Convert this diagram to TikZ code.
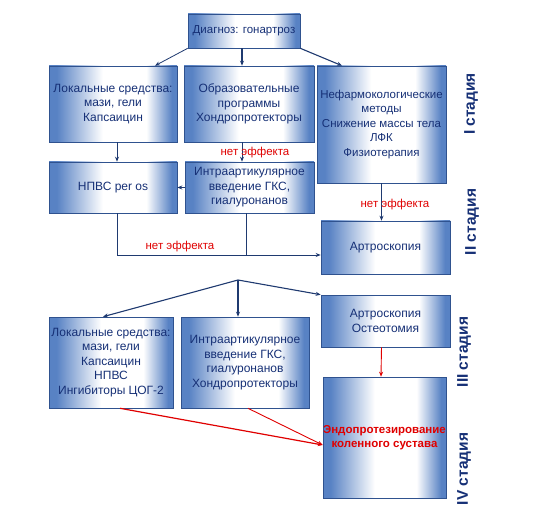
\documentclass[tikz,border=0pt]{standalone}
\usepackage{fontspec}
\setmainfont{Liberation Sans}
\usetikzlibrary{arrows.meta}
\definecolor{bxblue}{RGB}{88,130,196}
\definecolor{bxborder}{RGB}{47,82,143}
\definecolor{txtnavy}{RGB}{22,48,118}
\definecolor{arnavy}{RGB}{31,58,112}
\definecolor{effred}{RGB}{224,0,0}
\pgfdeclarehorizontalshading{boxshade}{100bp}{color(0bp)=(bxblue); color(25bp)=(bxblue); color(28bp)=(bxblue); color(46bp)=(white); color(63bp)=(white); color(73bp)=(bxblue); color(100bp)=(bxblue)}
\tikzset{
  box/.style={draw=bxborder, line width=0.6pt, shade, shading=boxshade, text=txtnavy,
    align=center, inner sep=0pt, font=\fontsize{12}{14.5}\selectfont},
  conn/.style={draw=arnavy, line width=0.8pt, -{Stealth[length=5pt,width=4pt]}},
  plain/.style={draw=arnavy, line width=0.6pt},
  redconn/.style={draw=effred, line width=0.9pt, -{Stealth[length=5pt,width=4pt]}},
  noeff/.style={text=effred, font=\fontsize{11.5}{14}\selectfont},
  stage/.style={text=txtnavy, rotate=90, font=\fontsize{15.5}{18}\selectfont\bfseries}
}
\begin{document}
\begin{tikzpicture}[x=1pt,y=-1pt]
\fill[white] (0,0) rectangle (550,519);
\useasboundingbox (0,0) rectangle (550,519);

\node[box, minimum width=112pt, minimum height=34pt, font=\fontsize{11.5}{14}\selectfont] (diag) at (244,31) {Диагноз: гонартроз};
\node[box, minimum width=128pt, minimum height=76pt] (b1) at (113,104) {Локальные средства:\\мази, гели\\Капсаицин};
\node[box, minimum width=130pt, minimum height=76pt] (b2) at (249,104) {Образовательные\\программы\\Хондропротекторы};
\node[box, minimum width=129pt, minimum height=117pt, font=\fontsize{11.5}{14.5}\selectfont] (b3) at (381.5,124.5) {Нефармокологические\\методы\\Снижение массы тела\\ЛФК\\Физиотерапия};
\node[box, minimum width=128pt, minimum height=51pt] (n1) at (113,187.5) {НПВС per os};
\node[box, minimum width=129pt, minimum height=51pt] (n2) at (249.5,187.5) {Интраартикулярное\\введение ГКС,\\гиалуронанов};
\node[box, minimum width=129pt, minimum height=53pt] (ar) at (385.5,247.5) {Артроскопия};
\node[box, minimum width=124pt, minimum height=91pt] (c1) at (111,362.5) {Локальные средства:\\мази, гели\\Капсаицин\\НПВС\\Ингибиторы ЦОГ-2};
\node[box, minimum width=128pt, minimum height=91pt] (c2) at (245,362.5) {Интраартикулярное\\введение ГКС,\\гиалуронанов\\Хондропротекторы};
\node[box, minimum width=129pt, minimum height=52pt] (c3) at (385.5,321) {Артроскопия\\Остеотомия};
\node[box, minimum width=123pt, minimum height=121pt, text=effred, font=\fontsize{11.5}{14}\selectfont\bfseries] (en) at (384.5,437.5) {Эндопротезирование\\коленного сустава};

\node[stage] (s1) at (471,104) {I стадия};
\node[stage] (s2) at (472,222) {II стадия};
\node[stage] (s3) at (464,352) {III стадия};
\node[stage] (s4) at (464,469) {IV стадия};

\draw[conn] (diag.south west) -- ([xshift=42pt]b1.north);
\draw[conn, line width=1.1pt] ([xshift=-2pt]diag.south) -- ([xshift=-7pt]b2.north);
\draw[conn, line width=1.1pt] (diag.south east) -- ([xshift=-39.5pt]b3.north);
\draw[conn] ([xshift=4pt]b1.south) -- ([xshift=4pt]n1.north);
\draw[conn] ([xshift=-7pt]b2.south) -- ([xshift=-7.5pt]n2.north);
\draw[conn] (n2.west) -- (n1.east);
\draw[conn] (b3.south) -- (b3.south |- ar.north);
\draw[conn] ([xshift=4pt]n1.south) |- ([yshift=-7.5pt]ar.west);
\draw[plain] ([xshift=-3.5pt]n2.south) -- ++(0,42);

\node[noeff] (e1) at (255,153) {нет эффекта};
\node[noeff] (e2) at (395,205) {нет эффекта};
\node[noeff] (e3) at (180,247) {нет эффекта};

\coordinate (br) at (238,280);
\draw[conn, line width=1.1pt] (br) -- ([xshift=-8pt]c1.north);
\draw[conn, line width=1.1pt] (br) -- (br |- c2.north);
\draw[conn, line width=1.1pt] (br) -- (c3.north west);

\draw[redconn] ([xshift=-4pt]c3.south) -- ([xshift=-3.5pt]en.north);
\draw[redconn, line width=1.2pt] ([xshift=9pt]c1.south) -- ([yshift=-7.5pt]en.west);
\draw[redconn] ([xshift=3pt]c2.south) -- ([yshift=-7.5pt]en.west);
\end{tikzpicture}
\end{document}
